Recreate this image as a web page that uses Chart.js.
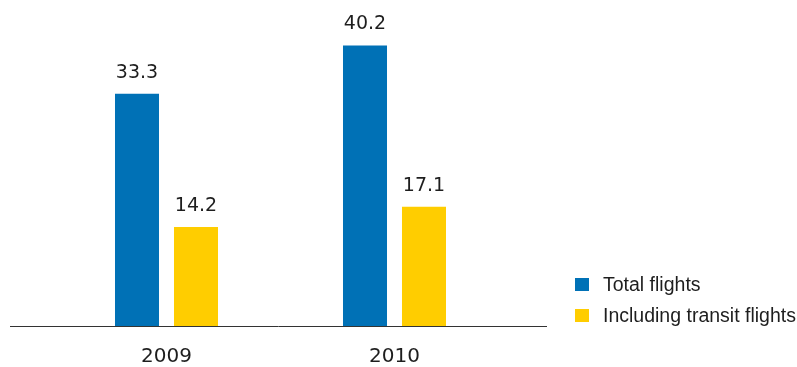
<!DOCTYPE html>
<html>
<head>
<meta charset="utf-8">
<script src="https://cdn.jsdelivr.net/npm/chart.js@4/dist/chart.umd.min.js"></script>
<style>
  html, body { margin: 0; padding: 0; background: #fff; }
  #wrap { width: 797px; height: 367px; position: relative; }
</style>
</head>
<body>
<div id="wrap"><canvas id="flights"></canvas></div>
<script>
// Flights, millions — 2009 vs 2010
const years = ['2009', '2010'];
const totalFlights = [33.3, 40.2];
const transitFlights = [14.2, 17.1];
const seriesNames = ['Total flights', 'Including transit flights'];

const BLUE = '#0071b6';
const YELLOW = '#ffcd00';
const TEXT = '#1e1e1e';

// value above every bar
const valueLabels = {
  id: 'valueLabels',
  afterDatasetsDraw(chart) {
    const ctx = chart.ctx;
    ctx.save();
    ctx.font = '19px "DejaVu Sans"';
    ctx.fillStyle = TEXT;
    ctx.textAlign = 'center';
    ctx.textBaseline = 'alphabetic';
    chart.data.datasets.forEach((ds, i) => {
      chart.getDatasetMeta(i).data.forEach((bar, j) => {
        ctx.fillText(ds.data[j].toFixed(1), bar.x, bar.y - 16);
      });
    });
    ctx.restore();
  }
};

// long baseline running past both sides of the plot
const baseline = {
  id: 'baseline',
  afterDatasetsDraw(chart) {
    const { ctx, chartArea, scales } = chart;
    const y = Math.round(scales.y.getPixelForValue(0)) + 0.5;
    ctx.save();
    ctx.strokeStyle = '#333';
    ctx.lineWidth = 1;
    ctx.beginPath();
    ctx.moveTo(chartArea.left - 42.5, y);
    ctx.lineTo(chartArea.right + 38.5, y);
    ctx.stroke();
    ctx.restore();
  }
};

// legend bottom right, square + name per series
const sideLegend = {
  id: 'sideLegend',
  afterDraw(chart) {
    const { ctx, chartArea } = chart;
    const x = chartArea.right + 66.5;
    ctx.save();
    ctx.font = '19.5px "Liberation Sans"';
    ctx.textAlign = 'left';
    ctx.textBaseline = 'alphabetic';
    chart.data.datasets.forEach((ds, i) => {
      const top = 278 + i * 31;
      ctx.fillStyle = ds.backgroundColor;
      ctx.fillRect(x, top, 14, 13);
      ctx.fillStyle = TEXT;
      ctx.fillText(ds.label, x + 28, top + 13);
    });
    ctx.restore();
  }
};

new Chart(document.getElementById('flights'), {
  type: 'bar',
  data: {
    labels: years,
    datasets: [
      { label: seriesNames[0], data: totalFlights, backgroundColor: BLUE },
      { label: seriesNames[1], data: transitFlights, backgroundColor: YELLOW }
    ]
  },
  options: {
    responsive: true,
    maintainAspectRatio: false,
    animation: false,
    layout: { padding: { left: 52.5, right: 288.5, top: 12, bottom: 0 } },
    datasets: { bar: { categoryPercentage: 0.5175, barPercentage: 0.746, borderWidth: 0 } },
    plugins: {
      legend: { display: false },
      tooltip: { enabled: false }
    },
    scales: {
      x: {
        grid: { display: false, drawTicks: false },
        border: { display: false },
        ticks: { color: TEXT, padding: 19, font: { family: 'DejaVu Sans', size: 20 } },
        afterFit(scale) { scale.height = 41; }
      },
      y: { display: false, min: 0, max: 45 }
    }
  },
  plugins: [valueLabels, baseline, sideLegend]
});
</script>
</body>
</html>
